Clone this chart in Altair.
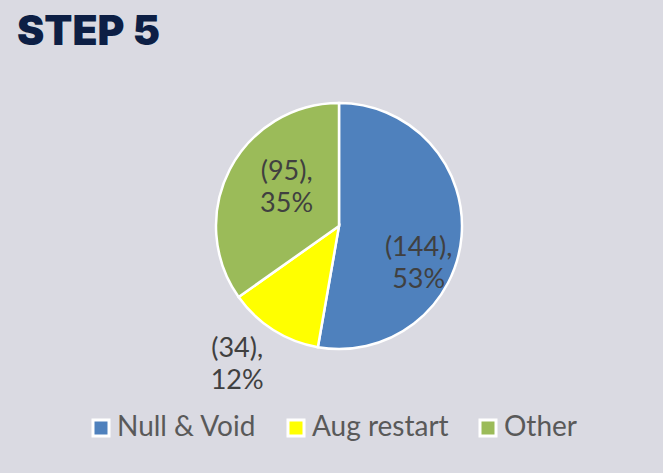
import altair as alt
import pandas as pd

categories = ["Null & Void", "Aug restart", "Other"]
counts = [144, 34, 95]
colors = ["#4f81bd", "#ffff00", "#9bbb59"]

total = sum(counts)
labels = [f"({c}),\n{round(c * 100 / total)}%" for c in counts]
df = pd.DataFrame({
    "category": categories,
    "count": counts,
    "idx": list(range(len(categories))),
    "label": labels,
})

W = H = 260
CX, CY = 339, 226
left = CX - W // 2
top = CY - H // 2
padding = {"left": left, "top": top, "right": 663 - left - W, "bottom": 473 - top - H}

theta = alt.Theta("count:Q", stack=True)
order = alt.Order("idx:Q", sort="ascending")

pie = alt.Chart(df).mark_arc(outerRadius=123, stroke="white", strokeWidth=2.5).encode(
    theta=theta,
    order=order,
    color=alt.Color(
        "category:N",
        scale=alt.Scale(domain=categories, range=colors),
        legend=alt.Legend(
            orient="none",
            legendX=87 - left,
            legendY=414 - top,
            direction="horizontal",
            title=None,
            symbolType="square",
            symbolSize=256,
            symbolStrokeColor="white",
            symbolStrokeWidth=3,
            labelFont="Lato",
            labelFontSize=28,
            labelColor="#595959",
            labelOffset=2,
            columnPadding=25,
            padding=0,
        ),
    ),
)


def label_layer(cat, r, dx, dy):
    return alt.Chart(df).mark_text(
        radius=r, dx=dx, dy=dy, font="Lato", fontSize=27, color="#404040",
        lineBreak="\n", align="center", baseline="middle", lineHeight=32,
    ).encode(
        theta=theta,
        order=order,
        text="label:N",
        opacity=alt.condition(alt.datum.category == cat, alt.value(1), alt.value(0)),
    )


chart = alt.layer(
    pie,
    label_layer("Null & Void", 87, -7, 15),
    label_layer("Aug restart", 170, -11, -21),
    label_layer("Other", 68, 8, -23),
).properties(
    width=W,
    height=H,
    padding=padding,
    autosize=alt.AutoSizeParams(type="none"),
    title=alt.TitleParams(
        text="STEP 5",
        anchor="start",
        frame="group",
        font="Inter",
        fontWeight=900,
        fontSize=41,
        color="#0d1f45",
        baseline="top",
        dx=17 - left,
        dy=-38,
    ),
).configure(background="#dadae2").configure_view(stroke=None)

chart.save("out.html", embed_options={"renderer": "svg", "actions": False})
